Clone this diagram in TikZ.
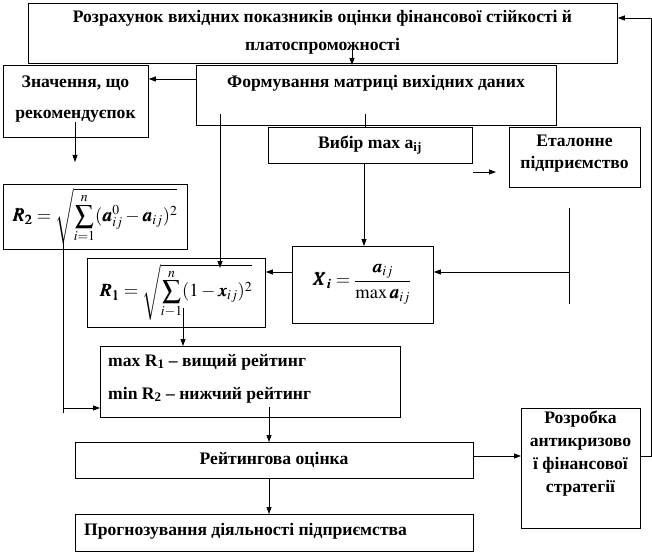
\documentclass[tikz,border=0pt]{standalone}
\usepackage{amsmath}
\usepackage{mathptmx}
\usepackage{bm}
\usepackage{fontspec}
\setmainfont{Liberation Serif}
\usetikzlibrary{arrows.meta}
\tikzset{
  box/.style={draw, line width=0.8pt, inner sep=0pt, anchor=north west},
  txt/.style={font=\bfseries\fontsize{17.6}{17.6}\selectfont, inner sep=0pt},
  frm/.style={font=\fontsize{18.5}{20}\selectfont, inner sep=0pt},
  conn/.style={line width=0.8pt},
  arr/.style={line width=0.8pt, -{Triangle[length=7pt,width=5pt]}}
}
\begin{document}
\begin{tikzpicture}[x=1pt,y=-1pt]
\useasboundingbox (0,0) rectangle (652,553);
% boxes
\node[box, minimum width=589pt, minimum height=60pt] (top) at (28,3) {};
\node[box, minimum width=360pt, minimum height=60pt] (form) at (196,65) {};
\node[box, minimum width=145pt, minimum height=72pt] (znach) at (3,65) {};
\node[box, minimum width=204pt, minimum height=36pt] (vybir) at (268,127) {};
\node[box, minimum width=131pt, minimum height=60pt] (etal) at (509,127) {};
\node[box, minimum width=184pt, minimum height=65pt] (rtwo) at (3,184) {};
\node[box, minimum width=141pt, minimum height=77pt] (xbox) at (292,246) {};
\node[box, minimum width=178pt, minimum height=69pt] (rone) at (87,258) {};
\node[box, minimum width=300pt, minimum height=71pt] (mm) at (100,346) {};
\node[box, minimum width=398pt, minimum height=36pt] (rating) at (75,442) {};
\node[box, minimum width=398pt, minimum height=37pt] (progn) at (75,514) {};
\node[box, minimum width=119pt, minimum height=120pt] (rozr) at (521,408) {};
% texts
\node[txt, align=center, font=\bfseries\fontsize{17.6}{28}\selectfont] (toptxt) at (322.5,32)
  {Розрахунок вихідних показників оцінки фінансової стійкості й\\платоспроможності};
\node[txt] (formtxt) at (376,83) {Формування матриці вихідних даних};
\node[txt, align=center, font=\bfseries\fontsize{17.6}{31}\selectfont] (znachtxt) at (75.5,99) {Значення, що\\рекомендуєпок};
\node[txt] (vybirtxt) at (370,145) {Вибір max a\textsubscript{ij}};
\node[txt, align=center, font=\bfseries\fontsize{17.6}{22}\selectfont] (etaltxt) at (574.5,154) {Еталонне\\підприємство};
\node[frm] (rtwotxt) at (95,216) {$\displaystyle \bm{R_2} = \sqrt{\sum_{i=1}^{n}(\bm{a}^0_{ij}-\bm{a}_{ij})^{2}}$};
\node[frm] (xtxt) at (362,284) {$\displaystyle \bm{X_i} = \frac{\bm{a}_{ij}}{\max \bm{a}_{ij}}$};
\node[frm] (ronetxt) at (176,292) {$\displaystyle \bm{R_1} = \sqrt{\sum_{i-1}^{n}(1-\bm{x}_{ij})^2}$};
\node[txt, align=left, anchor=west, font=\bfseries\fontsize{17.6}{33}\selectfont] (mmtxt) at (108,378.5)
  {max R\textsubscript{1} -- вищий рейтинг\\min R\textsubscript{2} -- нижчий рейтинг};
\node[txt] (ratingtxt) at (274,460) {Рейтингова оцінка};
\node[txt, anchor=west] (progntxt) at (84,531) {Прогнозування діяльності підприємства};
\node[txt, align=center, font=\bfseries\fontsize{17.6}{23}\selectfont] (rozrtxt) at (580.5,454)
  {Розробка\\антикризово\\ї фінансової\\стратегії};
% free ends
\coordinate (c1) at (352,47);
\coordinate (c2) at (75,122);
\coordinate (c2e) at (75,162);
\coordinate (c3) at (220,114);
\coordinate (c3e) at (220,268);
\coordinate (c4) at (365,114);
\coordinate (c5) at (473,172);
\coordinate (c5e) at (496,172);
\coordinate (c6) at (569,208);
\coordinate (c6e) at (569,304);
\coordinate (c7) at (183,308);
\coordinate (c8) at (63,240);
\coordinate (c8b) at (63,413);
\coordinate (c9) at (269,407);
\coordinate (c10) at (651,18);
% connectors
\draw[arr] (c1) -- (c1 |- form.north);
\draw[arr] (form.west |- 0,79) -- (znach.east |- 0,79);
\draw[arr] (c2) -- (c2e);
\draw[arr] (c3) -- (c3e);
\draw[conn] (c4) -- (c4 |- vybir.north);
\draw[arr] (vybir.south -| 364,0) -- (xbox.north -| 364,0);
\draw[arr] (c5) -- (c5e);
\draw[conn] (c6) -- (c6e);
\draw[arr] (c6 |- 0,272) -- (xbox.east |- 0,272);
\draw[arr] (xbox.west |- 0,272) -- (rone.east |- 0,272);
\draw[arr] (c7) -- (c7 |- mm.north);
\draw[conn] (c8) -- (c8b);
\draw[arr] (c8 |- 0,408) -- (mm.west |- 0,408);
\draw[arr] (c9) -- (c9 |- rating.north);
\draw[arr] (rating.south -| c9) -- (progn.north -| c9);
\draw[arr] (rating.east |- 0,456) -- (rozr.west |- 0,456);
\draw[arr] (rozr.east |- 0,456) -| (c10) -- (top.east |- c10);
\end{tikzpicture}
\end{document}
